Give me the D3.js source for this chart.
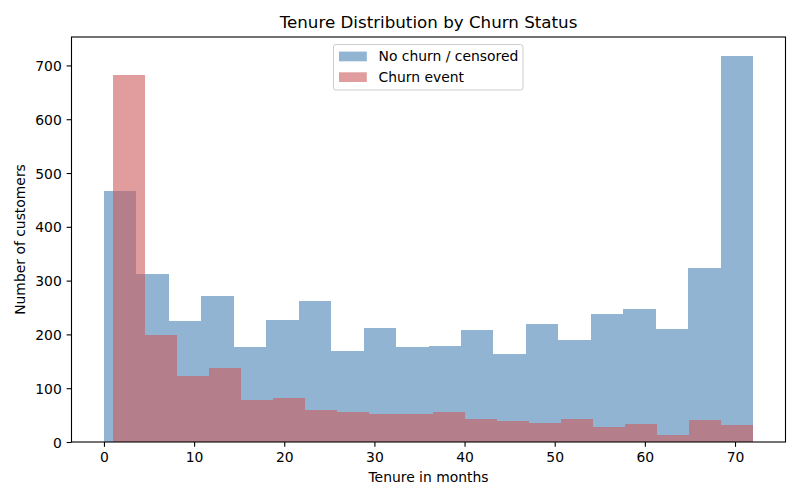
<!DOCTYPE html>
<html>
<head>
<meta charset="utf-8">
<script src="https://cdn.jsdelivr.net/npm/d3@7/dist/d3.min.js"></script>
<style>
  html, body { margin: 0; padding: 0; background: #fff; }
  svg { display: block; font-family: "DejaVu Sans", sans-serif; }
</style>
</head>
<body>
<svg id="chart" width="800" height="500"></svg>
<script>
// ---- Data ----
const seriesNames = ["No churn / censored", "Churn event"];
const noChurnRange = [0, 72];
const churnRange = [1, 72];
const binCount = 20;
const noChurnCounts = [467, 313, 225, 272, 177, 227, 263, 169, 212, 177, 179, 209, 164, 220, 190, 238, 248, 210, 324, 717];
const churnCounts = [683, 198, 123, 138, 79, 82, 60, 56, 52, 52, 56, 43, 39, 35, 43, 28, 34, 13, 41, 32];
const xTicks = [0, 10, 20, 30, 40, 50, 60, 70];
const yTicks = [0, 100, 200, 300, 400, 500, 600, 700];
const titleText = "Tenure Distribution by Churn Status";
const xLabel = "Tenure in months";
const yLabel = "Number of customers";

// ---- Layout ----
const svg = d3.select("#chart");
const L = 71.5, R = 785.5, T = 37, B = 442;
const blueFill = "steelblue", redFill = "indianred", alpha = 0.6;

const xMin = Math.min(noChurnRange[0], churnRange[0]);
const xMax = Math.max(noChurnRange[1], churnRange[1]);
const xPad = (xMax - xMin) * 0.05;
const x = d3.scaleLinear().domain([xMin - xPad, xMax + xPad]).range([L, R]);
const yMax = d3.max(noChurnCounts.concat(churnCounts)) * 1.05;
const y = d3.scaleLinear().domain([0, yMax]).range([B, T]);

function bins(range, counts) {
  const w = (range[1] - range[0]) / binCount;
  return counts.map((c, i) => ({ x0: range[0] + i * w, x1: range[0] + (i + 1) * w, c }));
}

const plot = svg.append("g");
function drawBars(data, fill) {
  plot.append("g").selectAll("rect").data(data).join("rect")
    .attr("x", d => x(d.x0))
    .attr("width", d => x(d.x1) - x(d.x0))
    .attr("y", d => y(d.c))
    .attr("height", d => y(0) - y(d.c))
    .attr("fill", fill)
    .attr("fill-opacity", alpha)
    .attr("shape-rendering", "crispEdges");
}
drawBars(bins(noChurnRange, noChurnCounts), blueFill);
drawBars(bins(churnRange, churnCounts), redFill);

// ---- Axes ----
const xAxis = svg.append("g").attr("transform", `translate(0,${B})`)
  .call(d3.axisBottom(x).tickValues(xTicks).tickSize(4.86).tickPadding(4.86).tickFormat(d3.format("d")));
const yAxis = svg.append("g").attr("transform", `translate(${L},0)`)
  .call(d3.axisLeft(y).tickValues(yTicks).tickSize(4.86).tickPadding(4.86).tickFormat(d3.format("d")));
[xAxis, yAxis].forEach(a => {
  a.select(".domain").remove();
  a.selectAll(".tick line").attr("stroke", "#000").attr("stroke-width", 1.1);
  a.selectAll(".tick text").attr("fill", "#000").style("font-size", "13.9px").style("font-family", "DejaVu Sans");
});
xAxis.selectAll(".tick text").attr("dy", "0.73em");
yAxis.selectAll(".tick text").attr("dy", "0.36em");

// spines
svg.append("rect").attr("x", L).attr("y", T).attr("width", R - L).attr("height", B - T)
  .attr("fill", "none").attr("stroke", "#000").attr("stroke-width", 1.1);

// ---- Labels ----
svg.append("text").attr("x", (L + R) / 2).attr("y", 28.3).attr("text-anchor", "middle")
  .style("font-size", "16.7px").attr("fill", "#000").text(titleText);
svg.append("text").attr("x", (L + R) / 2).attr("y", 481.5).attr("text-anchor", "middle")
  .style("font-size", "13.9px").attr("fill", "#000").text(xLabel);
svg.append("text").attr("transform", `translate(24.5,${(T + B) / 2}) rotate(-90)`).attr("text-anchor", "middle")
  .style("font-size", "13.9px").attr("fill", "#000").text(yLabel);

// ---- Legend ----
const lg = svg.append("g");
lg.append("rect").attr("x", 333.5).attr("y", 44.5).attr("width", 189.5).attr("height", 45.5)
  .attr("rx", 2.5).attr("fill", "#fff").attr("fill-opacity", 0.8).attr("stroke", "#cccccc").attr("stroke-width", 1);
const legendItems = [
  { name: seriesNames[0], fill: blueFill, py: 51.6, ty: 61 },
  { name: seriesNames[1], fill: redFill, py: 72.3, ty: 81.7 }
];
legendItems.forEach(it => {
  lg.append("rect").attr("x", 339).attr("y", it.py).attr("width", 27.8).attr("height", 9.7)
    .attr("fill", it.fill).attr("fill-opacity", alpha);
  lg.append("text").attr("x", 378.5).attr("y", it.ty).style("font-size", "13.9px").attr("fill", "#000").text(it.name);
});
</script>
</body>
</html>
